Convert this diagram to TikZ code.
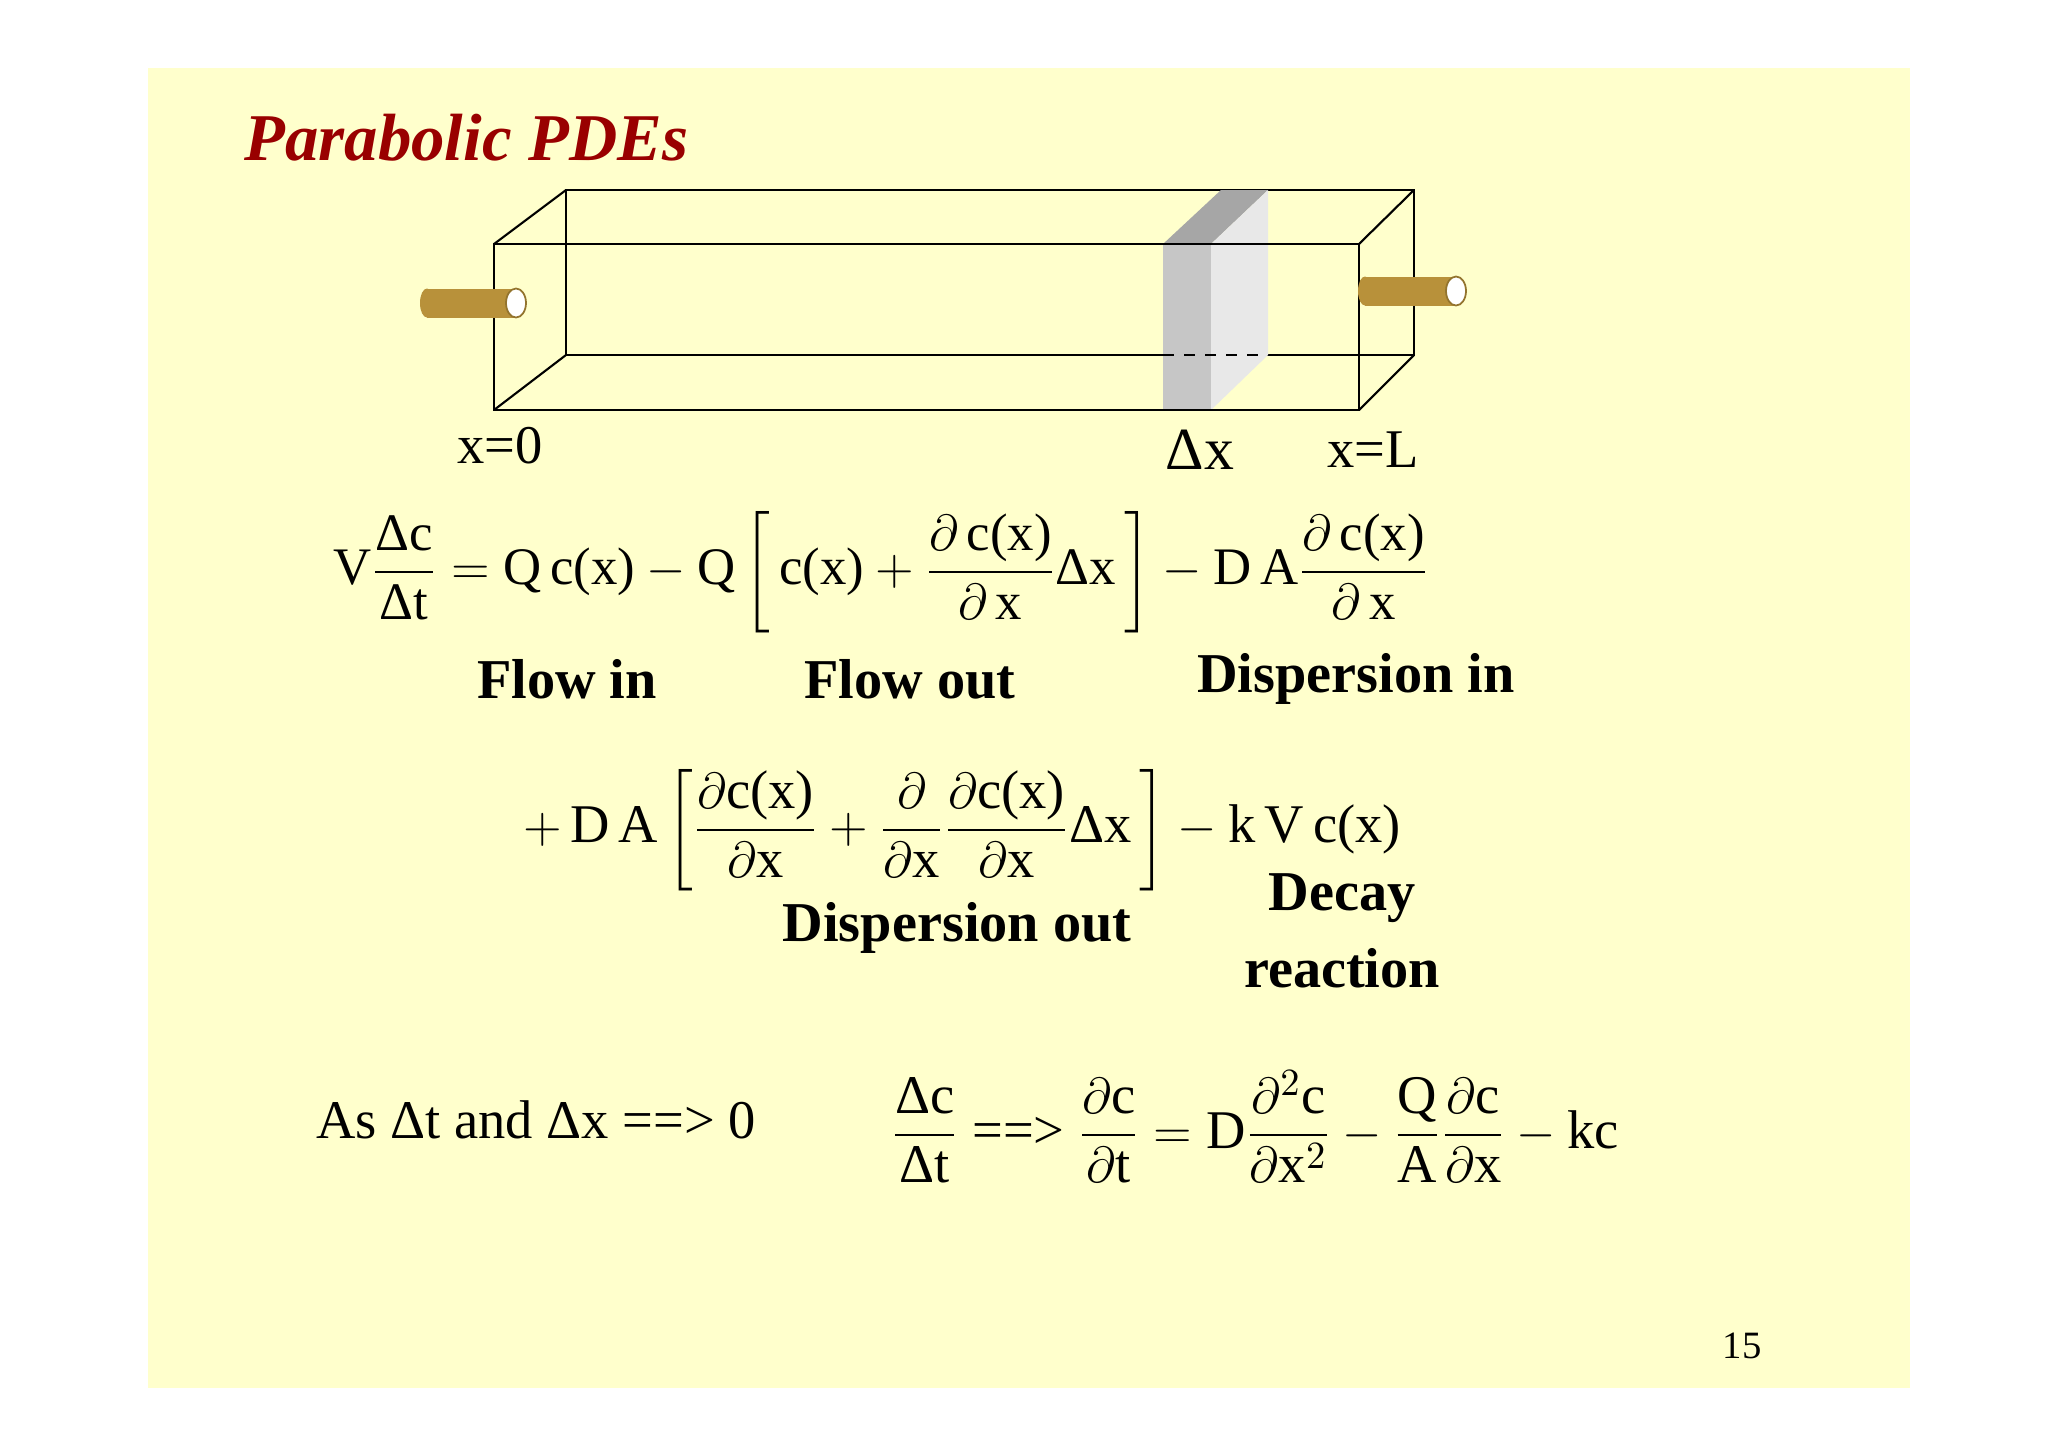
\documentclass[tikz,border=0pt]{standalone}
\usepackage{amsmath}
\usepackage{fontspec}
\setmainfont{Liberation Serif}
\newcommand{\tx}[1]{\text{#1}}
\definecolor{bg}{HTML}{FFFFCC}
\definecolor{ttl}{HTML}{990000}
\definecolor{pipe}{HTML}{B8913A}
\begin{document}
\begin{tikzpicture}[x=0.01cm,y=-0.01cm,
  lbl/.style={font=\fontsize{16}{19}\selectfont\bfseries,align=center},
  eq/.style={font=\fontsize{15.5}{19}\selectfont},
  edge/.style={draw=black,line width=0.6pt}]
\useasboundingbox (0,0) rectangle (2048,1448);
\fill[white] (0,0) rectangle (2048,1448);
\fill[bg] (148,68) rectangle (1910,1388);
\node[anchor=west,font=\fontsize{19}{22}\selectfont\bfseries\itshape,text=ttl] (title) at (232,138) {Parabolic PDEs};
% box back
\draw[edge] (566,190) rectangle (1414,355);
% slab
\fill[gray!45] (1163,244) rectangle (1211,410);
\fill[gray!70] (1163,244) -- (1211,244) -- (1268,190) -- (1221,190) -- cycle;
\fill[gray!18] (1211,244) -- (1268,190) -- (1268,355) -- (1211,410) -- cycle;
\draw[dashed,line width=0.5pt] (1163,355) -- (1268,355);
% front and connecting edges
\draw[edge] (494,244) rectangle (1359,410);
\draw[edge] (494,244) -- (566,190) (1359,244) -- (1414,190) (1359,410) -- (1414,355) (494,410) -- (566,355);
% pipes
\fill[pipe] (427,289) rectangle (516,318);
\fill[pipe] (427,303) ellipse (7 and 14.5);
\filldraw[fill=white,draw=pipe!80!black,line width=0.5pt] (516,303) ellipse (10 and 14.5);
\fill[pipe] (1365,277) rectangle (1456,306);
\fill[pipe] (1365,291) ellipse (7 and 14.5);
\filldraw[fill=white,draw=pipe!80!black,line width=0.5pt] (1456,291) ellipse (10 and 14.5);
% labels
\node[eq] (x0) at (500,446) {x=0};
\node[eq,font=\fontsize{17}{20}\selectfont] (dx) at (1200,450) {Δx};
\node[eq] (xL) at (1373,450) {x=L};
% equation 1
\node[eq,font=\fontsize{15}{18}\selectfont] (eq1) at (881,572) {$\tx{V}\dfrac{\tx{Δc}}{\tx{Δt}}=\tx{Q\,c(x)}-\tx{Q}\left[\,\tx{c(x)}+\dfrac{\partial\,\tx{c(x)}}{\partial\,\tx{x}}\tx{Δx}\,\right]-\tx{D\,A}\dfrac{\partial\,\tx{c(x)}}{\partial\,\tx{x}}$};
\node[lbl] (fin) at (567,679) {Flow in};
\node[lbl] (fout) at (910,679) {Flow out};
\node[lbl] (din) at (1356,679) {Dispersion in};
% equation 2
\node[eq] (eq2) at (962,830) {$+\,\tx{D\,A}\left[\dfrac{\partial\tx{c(x)}}{\partial\tx{x}}+\dfrac{\partial}{\partial\tx{x}}\dfrac{\partial\tx{c(x)}}{\partial\tx{x}}\tx{Δx}\,\right]-\tx{k\,V\,c(x)}$};
\node[lbl] (dout) at (957,928) {Dispersion out};
\node[lbl] (dec) at (1342,898) {Decay};
\node[lbl] (rea) at (1342,968) {reaction};
% last line
\node[eq] (as) at (536,1120) {As Δt and Δx ==> 0};
\node[eq] (eq3) at (1255,1127) {$\dfrac{\tx{Δc}}{\tx{Δt}}\ \tx{==>}\ \dfrac{\partial\tx{c}}{\partial\tx{t}}=\tx{D}\dfrac{\partial^2\tx{c}}{\partial\tx{x}^2}-\dfrac{\tx{Q}}{\tx{A}}\dfrac{\partial\tx{c}}{\partial\tx{x}}-\tx{kc}$};
\node[font=\fontsize{11}{13}\selectfont] (pg) at (1742,1346) {15};
\end{tikzpicture}
\end{document}
